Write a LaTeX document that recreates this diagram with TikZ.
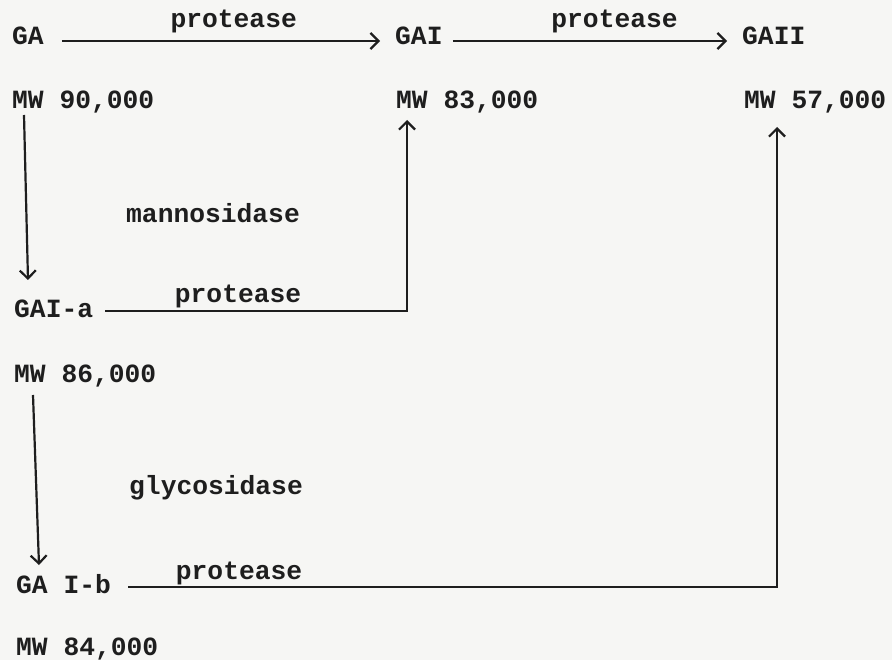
\documentclass[tikz,border=0pt]{standalone}
\usepackage{fontspec}
\setmonofont{Liberation Mono}
\usepackage{tikz}
\usetikzlibrary{
  arrows.meta
}
\definecolor{PaperGray}{HTML}{F6F6F4}
\definecolor{InkBlack}{HTML}{1E1E1E}
\tikzset{
  % Typewriter text, anchored on its baseline
  tw/.style={
    anchor=base west, inner sep=0pt,
    font=\ttfamily\bfseries\fontsize{26.3}{30}\selectfont, text=InkBlack
  },
  % Enzyme label sitting above a connector
  enz/.style={
    anchor=base, inner sep=0pt, yshift=#1,
    font=\ttfamily\bfseries\fontsize{26.3}{30}\selectfont, text=InkBlack
  },
  % Arrow
  arr/.style={
    -{Straight Barb[length=8pt,width=16pt,line width=2.2pt]},
    line width=2.2pt, color=InkBlack
  }
}
\begin{document}
\begin{tikzpicture}[x=1pt, y=-1pt]

  % Paper
  \fill[PaperGray] (0,0) rectangle (892,660);
  \useasboundingbox (0,0) rectangle (892,660);

  % Top row
  \node[tw] (ga)   at (12,45)  {GA};
  \node[tw] (gai)  at (395,45) {GAI};
  \node[tw] (gaii) at (742,45) {GAII};

  \node[tw] (mw90) at (12,109)  {MW 90,000};
  \node[tw] (mw83) at (396,109) {MW 83,000};
  \node[tw] (mw57) at (744,109) {MW 57,000};

  % Left column
  \node[tw] (mann) at (126,223) {mannosidase};
  \node[tw] (gaia) at (14,318)  {GAI-a};
  \node[tw] (mw86) at (14,383)  {MW 86,000};
  \node[tw] (glyc) at (129,494) {glycosidase};
  \node[tw] (gaib) at (16,593)  {GA I-b};
  \node[tw] (mw84) at (16,655)  {MW 84,000};

  % Protease steps
  \draw[arr] ([xshift=18pt,yshift=4pt]ga.base east)
    -- node[enz=13pt, pos=0.54]{protease} ([xshift=-15pt,yshift=4pt]gai.base west);
  \draw[arr] ([xshift=10pt,yshift=4pt]gai.base east)
    -- node[enz=13pt, pos=0.59]{protease} ([xshift=-15pt,yshift=4pt]gaii.base west);
  \draw[arr] ([xshift=12pt,yshift=7pt]gaia.base east)
    -| node[enz=8pt, pos=0.22]{protease} ([xshift=11pt,yshift=-11pt]mw83.base west);
  \draw[arr] ([xshift=17pt,yshift=6pt]gaib.base east)
    -| node[enz=8pt, pos=0.0855]{protease} ([xshift=33pt,yshift=-18pt]mw57.base west);

  % Glycosidase steps
  \draw[arr] ([xshift=12pt,yshift=-6pt]mw90.base west) -- ([xshift=14pt,yshift=38pt]gaia.base west);
  \draw[arr] ([xshift=19pt,yshift=-12pt]mw86.base west) -- ([xshift=23pt,yshift=28pt]gaib.base west);

\end{tikzpicture}
\end{document}
